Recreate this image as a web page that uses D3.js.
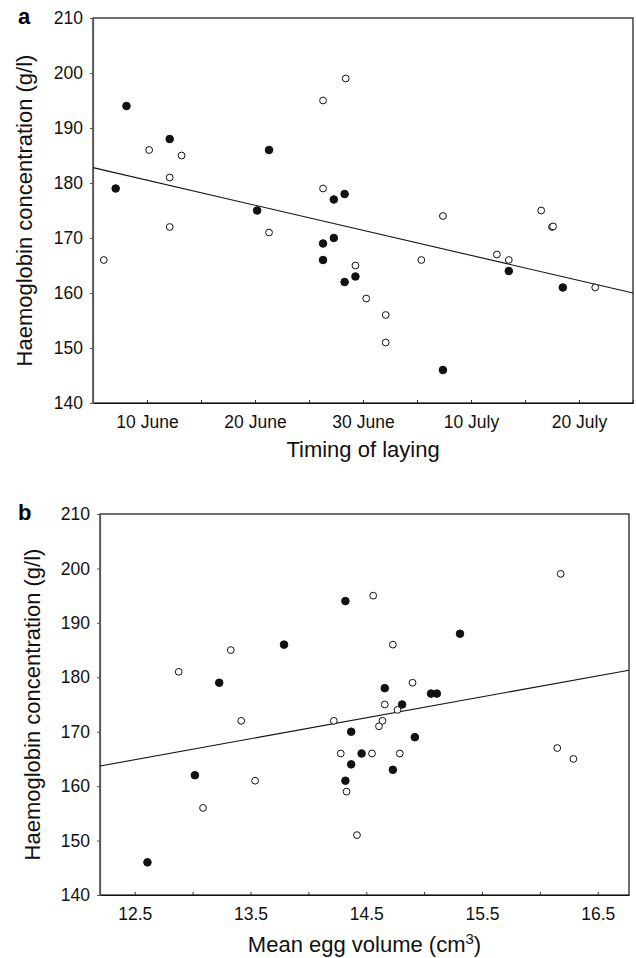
<!DOCTYPE html>
<html>
<head>
<meta charset="utf-8">
<script src="https://d3js.org/d3.v7.min.js"></script>
<style>
  body { margin: 0; background: #fff; }
  svg { display: block; font-family: "Liberation Sans", Arial, sans-serif; }
</style>
</head>
<body>
<script>
// ---- panel a: timing of laying (days after 31 May) ----
const layDay    = [6.0, 7.1, 8.1, 10.2, 12.1, 12.1, 12.1, 13.2, 20.2, 21.3, 21.3, 26.3, 26.3, 26.3, 26.3, 27.3, 27.3, 28.4,
                   28.3, 28.3, 29.3, 29.3, 30.3, 32.1, 32.1, 35.4, 37.4, 37.4, 42.4, 43.5, 43.5, 46.5, 47.5, 47.6, 48.5, 51.5];
const layHb     = [166, 179, 194, 186, 188, 181, 172, 185, 175, 171, 186, 195, 179, 169, 166, 177, 170, 199,
                   178, 162, 165, 163, 159, 156, 151, 166, 174, 146, 167, 166, 164, 175, 172, 172.1, 161, 161];
const layFilled = [0, 1, 1, 0, 1, 0, 0, 0, 1, 0, 1, 0, 0, 1, 1, 1, 1, 0,
                   1, 1, 0, 1, 0, 0, 0, 0, 0, 1, 0, 0, 1, 0, 0, 0, 1, 0];
const layFit    = [[5, 182.8], [55, 160]];
const dayTicks  = [5, 10, 15, 20, 25, 30, 35, 40, 45, 50, 55];
const dayLabels = {10: "10 June", 20: "20 June", 30: "30 June", 40: "10 July", 50: "20 July"};

// ---- panel b: mean egg volume ----
const eggVol    = [13.79, 14.73, 13.33, 12.88, 13.23, 14.90, 14.66, 15.06, 15.11, 14.66, 14.81, 14.77, 13.42, 14.22,
                   14.64, 14.61, 14.37, 14.92, 14.28, 14.46, 14.55, 14.79, 16.15, 16.29, 14.37, 14.73, 13.02, 13.54,
                   14.32, 14.33, 13.09, 14.32, 14.56, 16.18, 15.31, 14.42, 12.61];
const eggHb     = [186, 186, 185, 181, 179, 179, 178, 177, 177, 175, 175, 174, 172, 172,
                   172, 171, 170, 169, 166, 166, 166, 166, 167, 165, 164, 163, 162, 161,
                   161, 159, 156, 194, 195, 199, 188, 151, 146];
const eggFilled = [1, 0, 0, 0, 1, 0, 1, 1, 1, 0, 1, 0, 0, 0,
                   0, 0, 1, 1, 0, 1, 0, 0, 0, 0, 1, 1, 1, 0,
                   1, 0, 0, 1, 0, 0, 1, 0, 1];
const eggFit    = [[12.2, 163.7], [16.77, 181.3]];
const eggTicks  = [12.5, 13, 13.5, 14, 14.5, 15, 15.5, 16, 16.5];
const eggLabels = {12.5: "12.5", 13.5: "13.5", 14.5: "14.5", 15.5: "15.5", 16.5: "16.5"};

const hbTicks = [140, 150, 160, 170, 180, 190, 200, 210];

const W = 636, H = 958;
const svg = d3.select("body").append("svg").attr("width", W).attr("height", H);

function drawPanel(p) {
    const x = d3.scaleLinear().domain(p.xDomain).range([p.left, p.right]);
    const y = d3.scaleLinear().domain([140, 210]).range([p.bottom, p.top]);
    const g = svg.append("g");

    // frame
    g.append("rect")
        .attr("x", p.left).attr("y", p.top)
        .attr("width", p.right - p.left).attr("height", p.bottom - p.top)
        .attr("fill", "none").attr("stroke", "#111").attr("stroke-width", 1.2);

    // x axis, ticks pointing into the plot
    const xAxis = g.append("g")
        .attr("transform", "translate(0," + p.bottom + ")")
        .call(d3.axisBottom(x).tickValues(p.xTicks).tickSizeInner(-3).tickSizeOuter(0)
            .tickFormat(d => p.xLabels[d] || ""));
    xAxis.select(".domain").attr("stroke", "#111").attr("stroke-width", 1.2);
    xAxis.selectAll(".tick line").attr("stroke", "#333");
    xAxis.selectAll("text").attr("y", 13).attr("dy", "0.71em")
        .attr("font-size", 17.5).attr("fill", "#111");

    // y axis
    const yAxis = g.append("g")
        .attr("transform", "translate(" + p.left + ",0)")
        .call(d3.axisLeft(y).tickValues(hbTicks).tickSize(3).tickPadding(7));
    yAxis.select(".domain").attr("stroke", "#555").attr("stroke-width", 1.2);
    yAxis.selectAll(".tick line").attr("stroke", "#555");
    yAxis.selectAll("text").attr("font-size", 17.5).attr("fill", "#111");

    // regression line
    g.append("path")
        .datum(p.fit)
        .attr("d", d3.line().x(d => x(d[0])).y(d => y(d[1])))
        .attr("fill", "none").attr("stroke", "#111").attr("stroke-width", 1.1);

    // points
    g.selectAll("circle.pt")
        .data(p.xs.map((v, i) => ({x: v, y: p.ys[i], f: p.filled[i]})))
        .enter().append("circle")
        .attr("class", "pt")
        .attr("cx", d => x(d.x)).attr("cy", d => y(d.y))
        .attr("r", d => d.f ? 3.8 : 3.4)
        .attr("fill", d => d.f ? "#111" : "#fff")
        .attr("stroke", "#111").attr("stroke-width", 1);

    // panel letter
    g.append("text").attr("x", 18).attr("y", p.top + 6)
        .attr("font-size", 22).attr("font-weight", "bold").text(p.letter);

    // axis titles
    g.append("text")
        .attr("transform", "translate(" + p.yTitleX + "," + ((p.top + p.bottom) / 2) + ") rotate(-90)")
        .attr("text-anchor", "middle").attr("font-size", 22).attr("fill", "#111")
        .text("Haemoglobin concentration (g/l)");

    const xt = g.append("text")
        .attr("x", (p.left + p.right) / 2).attr("y", p.xTitleY)
        .attr("text-anchor", "middle").attr("font-size", 22).attr("fill", "#111");
    xt.append("tspan").text(p.xTitle);
    if (p.xSup) {
        xt.append("tspan").attr("font-size", 15).attr("dy", -8).text(p.xSup);
        xt.append("tspan").attr("dy", 8).text(")");
    }
}

drawPanel({
    letter: "a", left: 93, right: 633, top: 18, bottom: 403,
    xDomain: [5, 55], xTicks: dayTicks, xLabels: dayLabels,
    xs: layDay, ys: layHb, filled: layFilled, fit: layFit,
    xTitle: "Timing of laying", xTitleY: 457, yTitleX: 32
});

drawPanel({
    letter: "b", left: 100, right: 629, top: 514, bottom: 895,
    xDomain: [12.2, 16.77], xTicks: eggTicks, xLabels: eggLabels,
    xs: eggVol, ys: eggHb, filled: eggFilled, fit: eggFit,
    xTitle: "Mean egg volume (cm", xSup: "3", xTitleY: 952, yTitleX: 40
});
</script>
</body>
</html>
